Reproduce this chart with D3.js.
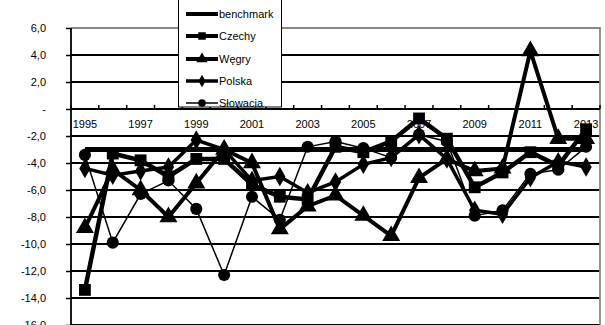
<!DOCTYPE html>
<html>
<head>
<meta charset="utf-8">
<script src="https://cdn.jsdelivr.net/npm/d3@7"></script>
<style>
  body { margin: 0; background: #fff; }
  svg { display: block; font-family: "Liberation Sans", Arial, sans-serif; }
</style>
</head>
<body>
<svg id="chart" width="605" height="325"></svg>
<script>
// Years on the category axis
const years = [1995, 1996, 1997, 1998, 1999, 2000, 2001, 2002, 2003, 2004,
               2005, 2006, 2007, 2008, 2009, 2010, 2011, 2012, 2013];

// General government balance, % of GDP
const benchmark = [-3, -3, -3, -3, -3, -3, -3, -3, -3, -3, -3, -3, -3, -3, -3, -3, -3, -3, -3];
const czechy    = [-13.4, -3.3, -3.8, -5.0, -3.7, -3.7, -5.6, -6.5, -6.7, -2.8, -3.2, -2.4, -0.7, -2.2, -5.8, -4.7, -3.2, -4.2, -1.5];
const wegry     = [-8.8, -4.5, -6.0, -8.0, -5.5, -3.0, -4.0, -8.9, -7.2, -6.4, -7.9, -9.4, -5.1, -3.7, -4.6, -4.4, 4.3, -2.2, -2.2];
const polska    = [-4.4, -4.9, -4.6, -4.3, -2.3, -3.0, -5.3, -5.0, -6.2, -5.4, -4.1, -3.6, -1.9, -3.7, -7.5, -7.8, -5.1, -3.9, -4.3];
const slowacja  = [-3.4, -9.9, -6.3, -5.3, -7.4, -12.3, -6.5, -8.2, -2.8, -2.4, -2.9, -3.6, -1.9, -2.4, -7.9, -7.5, -4.8, -4.5, -2.8];

// Value-axis ticks and their labels
const yTicks  = [6, 4, 2, 0, -2, -4, -6, -8, -10, -12, -14, -16];
const yLabels = ["6,0", "4,0", "2,0", "-", "-2,0", "-4,0", "-6,0", "-8,0", "-10,0", "-12,0", "-14,0", "-16,0"];

const seriesNames = ["benchmark", "Czechy", "Węgry", "Polska", "Słowacja"];
const seriesData  = [benchmark, czechy, wegry, polska, slowacja];
const seriesStyle = [
  { width: 5,   marker: null },
  { width: 4.5, marker: d3.symbolSquare,   size: 140 },
  { width: 4,   marker: d3.symbolTriangle, size: 140 },
  { width: 3.5, marker: d3.symbolDiamond,  size: 110 },
  { width: 1.5, marker: d3.symbolCircle,   size: 115 }
];

const svg = d3.select("#chart");
const plotL = 71, plotR = 600, plotT = 28, plotB = 325;

const x = d3.scaleBand().domain(years).range([plotL, plotR]).padding(0);
const y = d3.scaleLinear().domain([-16, 6]).range([plotB, plotT]);
const cx = d => x(d) + x.bandwidth() / 2;

// Horizontal gridlines
svg.append("g").selectAll("line")
  .data(yTicks.filter(t => t !== 6 && t !== 0))
  .join("line")
  .attr("x1", plotL).attr("x2", plotR)
  .attr("y1", d => y(d)).attr("y2", d => y(d))
  .attr("stroke", "#000").attr("stroke-width", 1.8);

// Plot-area border (top and right)
svg.append("path")
  .attr("d", `M${plotL},${y(6)}H${plotR}V${plotB}`)
  .attr("fill", "none").attr("stroke", "#888").attr("stroke-width", 1.8);

// Value axis
const yAxis = svg.append("g").attr("transform", `translate(${plotL},0)`)
  .call(d3.axisLeft(y).tickValues(yTicks).tickSize(5).tickPadding(20)
    .tickFormat((d, i) => yLabels[i]));
yAxis.select(".domain").attr("stroke", "#000").attr("stroke-width", 1.8)
  .attr("d", `M0,${plotT}V${plotB + 5}`);
yAxis.selectAll(".tick line").attr("stroke", "#000").attr("stroke-width", 1.5);
yAxis.selectAll(".tick text").attr("font-size", 11).attr("fill", "#000")
  .attr("font-family", "Liberation Sans, Arial, sans-serif");

// Category axis drawn along zero
const y0 = y(0);
const xAxis = svg.append("g").attr("transform", `translate(0,${y0})`);
xAxis.append("line").attr("x1", plotL).attr("x2", plotR)
  .attr("stroke", "#000").attr("stroke-width", 1.8);
xAxis.selectAll("line.tk")
  .data(years.concat([null]))
  .join("line").attr("class", "tk")
  .attr("x1", (d, i) => plotL + i * x.bandwidth())
  .attr("x2", (d, i) => plotL + i * x.bandwidth())
  .attr("y1", -4).attr("y2", 0)
  .attr("stroke", "#000").attr("stroke-width", 1.5);
xAxis.selectAll("text")
  .data(years.filter((d, i) => i % 2 === 0))
  .join("text")
  .attr("x", d => cx(d)).attr("y", 19)
  .attr("text-anchor", "middle").attr("font-size", 11).attr("fill", "#000")
  .text(d => d);

// Series lines and markers
const line = d3.line().x((d, i) => cx(years[i])).y(d => y(d));
seriesData.forEach((vals, s) => {
  const st = seriesStyle[s];
  const g = svg.append("g");
  g.append("path").datum(vals)
    .attr("d", line).attr("fill", "none")
    .attr("stroke", "#000").attr("stroke-width", st.width)
    .attr("stroke-linejoin", "miter");
  if (st.marker) {
    g.selectAll("path.m").data(vals).join("path").attr("class", "m")
      .attr("d", d3.symbol().type(st.marker).size(st.size))
      .attr("transform", (d, i) => `translate(${cx(years[i])},${y(d)})`)
      .attr("fill", "#000");
  }
});

// Legend
const lg = svg.append("g");
lg.append("rect").attr("x", 178.5).attr("y", -5).attr("width", 103).attr("height", 112)
  .attr("fill", "#fff").attr("stroke", "#000").attr("stroke-width", 1);
const legendY = [14, 36, 59, 81, 103];
seriesNames.forEach((name, s) => {
  const st = seriesStyle[s];
  const ly = legendY[s];
  lg.append("line").attr("x1", 186).attr("x2", 218).attr("y1", ly).attr("y2", ly)
    .attr("stroke", "#000").attr("stroke-width", Math.min(st.width, 4));
  if (st.marker) {
    lg.append("path").attr("d", d3.symbol().type(st.marker).size(st.size * 0.4))
      .attr("transform", `translate(202,${ly})`).attr("fill", "#000");
  }
  lg.append("text").attr("x", 219).attr("y", ly + 4)
    .attr("font-size", 11).attr("fill", "#000").text(name);
});
</script>
</body>
</html>
